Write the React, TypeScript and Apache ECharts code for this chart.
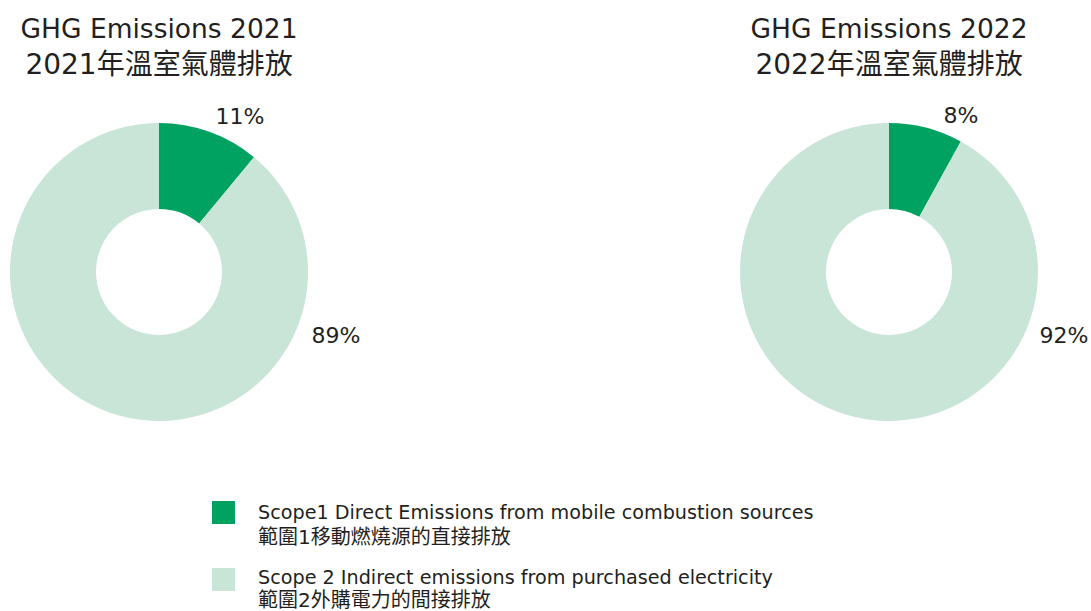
import React, { useEffect, useRef } from "react";
import * as echarts from "echarts";

const categories = [
  "Scope1 Direct Emissions from mobile combustion sources\n範圍1移動燃燒源的直接排放",
  "Scope 2 Indirect emissions from purchased electricity\n範圍2外購電力的間接排放",
];
const years = ["2021", "2022"];
const titlesEn = ["GHG Emissions 2021", "GHG Emissions 2022"];
const titlesZh = ["2021年溫室氣體排放", "2022年溫室氣體排放"];
const values2021 = [11, 89];
const values2022 = [8, 92];
const colors = ["#00A262", "#C9E5D8"];

const FONT = "'DejaVu Sans', 'Noto Sans CJK TC', sans-serif";
const TEXT = "#231F20";

export default function App() {
  const ref = useRef<HTMLDivElement>(null);
  useEffect(() => {
    if (!ref.current) return;
    const chart = echarts.init(ref.current, null, { renderer: "svg" });
    const centers = [159, 889];
    const labelPos = [
      [
        [240, 116],
        [336, 335],
      ],
      [
        [961, 115],
        [1064, 335],
      ],
    ];
    const allValues = [values2021, values2022];
    const series = years.map((y, si) => ({
      type: "pie",
      name: y,
      center: [centers[si], 272],
      radius: [63, 149],
      startAngle: 90,
      clockwise: true,
      silent: true,
      data: allValues[si].map((v, i) => ({
        name: categories[i],
        value: v,
        itemStyle: { color: colors[i] },
      })),
      label: {
        show: true,
        position: "outside",
        formatter: "{c}%",
        color: TEXT,
        fontSize: 22,
        fontFamily: FONT,
      },
      labelLine: { show: false },
      labelLayout: (p: any) => {
        const pos = labelPos[si][p.dataIndex];
        return { x: pos[0], y: pos[1], align: "center", verticalAlign: "middle" };
      },
    }));

    const enY = [512, 577];
    const zhY = [537, 600];
    const boxTop = [501, 568];
    const legendItems: any[] = [];
    categories.forEach((c, i) => {
      const [en, zh] = c.split("\n");
      legendItems.push({
        type: "rect",
        shape: { x: 212, y: boxTop[i], width: 23, height: 23 },
        style: { fill: colors[i] },
      });
      legendItems.push({
        type: "text",
        x: 258,
        y: enY[i],
        style: {
          text: en,
          fill: TEXT,
          fontSize: 19.2,
          fontFamily: FONT,
          verticalAlign: "middle",
        },
      });
      legendItems.push({
        type: "text",
        x: 258,
        y: zhY[i],
        style: {
          text: zh,
          fill: TEXT,
          fontSize: 20,
          fontFamily: FONT,
          verticalAlign: "middle",
        },
      });
    });

    const titles: any[] = [];
    years.forEach((y, i) => {
      titles.push({
        text: titlesEn[i],
        left: centers[i] - 5,
        top: 4,
        textAlign: "center",
        textStyle: {
          color: TEXT,
          fontSize: 26.5,
          fontWeight: "normal",
          fontFamily: FONT,
          lineHeight: 38,
        },
      });
      titles.push({
        text: titlesZh[i],
        left: centers[i] - 5,
        top: 40,
        textAlign: "center",
        textStyle: {
          color: TEXT,
          fontSize: 28,
          fontWeight: "normal",
          fontFamily: FONT,
          lineHeight: 38,
        },
      });
    });

    chart.setOption({
      animation: false,
      backgroundColor: "#ffffff",
      title: titles,
      series,
      graphic: legendItems,
    });
    return () => chart.dispose();
  }, []);
  return <div ref={ref} style={{ width: 1091, height: 611, position: "absolute", left: 0, top: 0 }} />;
}
